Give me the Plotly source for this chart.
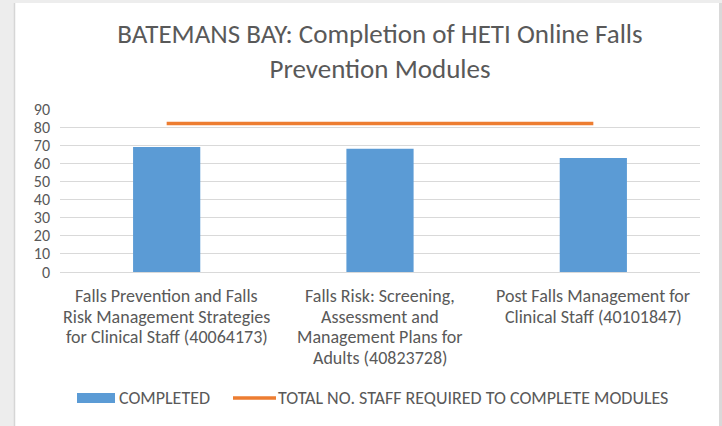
import plotly.graph_objects as go

# datos
modulos = [
    "Falls Prevention and Falls<br>Risk Management Strategies<br>for Clinical Staff (40064173)",
    "Falls Risk: Screening,<br>Assessment and<br>Management Plans for<br>Adults (40823728)",
    "Post Falls Management for<br>Clinical Staff (40101847)",
]
completados = [69, 68, 63]
total_requerido = [82, 82, 82]

titulo = "BATEMANS BAY: Completion of HETI Online Falls<br>Prevention Modules"
nombre_barras = "COMPLETED"
nombre_linea = "TOTAL NO. STAFF REQUIRED TO COMPLETE MODULES"

FUENTE = "Calibri, Carlito, Lato, sans-serif"
GRIS_TXT = "#595959"
AZUL = "#5b9bd5"
NARANJA = "#ed7d31"

W, H = 722, 426
L, R, T, B = 60, 22, 109, 154
plot_w = W - L - R
plot_h = H - T - B


def fx(px):
    return (px - L) / plot_w


def fy(py):
    return (H - B - py) / plot_h


fig = go.Figure()
fig.add_trace(go.Bar(
    x=modulos, y=completados, name=nombre_barras,
    marker=dict(color=AZUL, line=dict(width=0)),
))
fig.add_trace(go.Scatter(
    x=modulos, y=total_requerido, name=nombre_linea, mode="lines",
    line=dict(color=NARANJA, width=3.5),
))

# etiquetas de categorias (una anotacion por linea para el interlineado)
anotaciones = []
for cat in modulos:
    for i, linea in enumerate(cat.split("<br>")):
        anotaciones.append(dict(
            x=cat, xref="x", y=fy(296 + 20.7 * i), yref="paper",
            text=linea, showarrow=False, xanchor="center", yanchor="middle",
            font=dict(family=FUENTE, size=18, color=GRIS_TXT),
        ))

# leyenda dibujada a mano
anotaciones.append(dict(x=fx(117), y=fy(398), xref="paper", yref="paper", text=nombre_barras,
                        showarrow=False, xanchor="left", yanchor="middle",
                        font=dict(family=FUENTE, size=18, color=GRIS_TXT)))
anotaciones.append(dict(x=fx(276), y=fy(398), xref="paper", yref="paper", text=nombre_linea,
                        showarrow=False, xanchor="left", yanchor="middle",
                        font=dict(family=FUENTE, size=18, color=GRIS_TXT)))

formas = [
    # marco estilo excel
    dict(type="rect", xref="paper", yref="paper", x0=fx(0), x1=fx(14), y0=fy(H), y1=fy(0),
         fillcolor="#ededed", line=dict(width=0)),
    dict(type="rect", xref="paper", yref="paper", x0=fx(0), x1=fx(W), y0=fy(3), y1=fy(0),
         fillcolor="#ededed", line=dict(width=0)),
    dict(type="line", xref="paper", yref="paper", x0=fx(14.5), x1=fx(14.5), y0=fy(H), y1=fy(3),
         line=dict(color="#d6d6d6", width=1.5)),
    dict(type="rect", xref="paper", yref="paper", x0=fx(719), x1=fx(W), y0=fy(H), y1=fy(3),
         fillcolor="#d9d9d9", line=dict(width=0)),
    # simbolos de leyenda
    dict(type="rect", xref="paper", yref="paper", x0=fx(77), x1=fx(115), y0=fy(403), y1=fy(393),
         fillcolor=AZUL, line=dict(width=0)),
    dict(type="line", xref="paper", yref="paper", x0=fx(233), x1=fx(276), y0=fy(398), y1=fy(398),
         line=dict(color=NARANJA, width=3.5)),
]

fig.update_layout(
    width=W, height=H,
    margin=dict(l=L, r=R, t=T, b=B),
    paper_bgcolor="white", plot_bgcolor="white",
    title=dict(text=titulo, x=0.5, xref="paper", xanchor="center", y=1 - 43 / H, yanchor="middle",
               font=dict(family=FUENTE, size=27, color=GRIS_TXT)),
    showlegend=False,
    bargap=0.685,
    annotations=anotaciones,
    shapes=formas,
    font=dict(family=FUENTE, color=GRIS_TXT),
)
fig.update_xaxes(showticklabels=False, showgrid=False, showline=False, ticks="")
fig.update_yaxes(range=[0, 90], dtick=10, gridcolor="#d9d9d9", gridwidth=1,
                 zeroline=True, zerolinecolor="#d9d9d9", zerolinewidth=1, showline=False,
                 ticks="", tickfont=dict(family=FUENTE, size=16, color=GRIS_TXT),
                 ticklabelstandoff=9)

fig.write_html(
    "out.html",
    config={"displayModeBar": False},
    post_script="document.body.style.margin='0';document.documentElement.style.overflow='hidden';"
                "window.scrollTo(0,0);",
)
